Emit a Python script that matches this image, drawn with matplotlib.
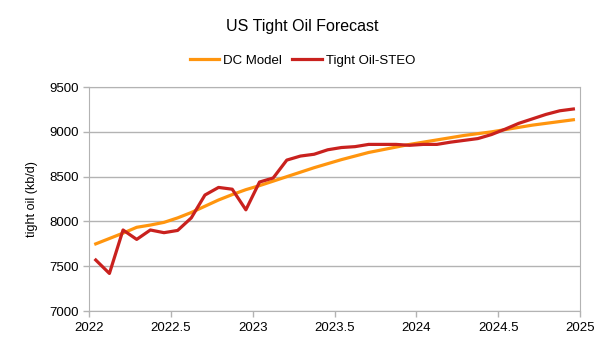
import matplotlib
matplotlib.use("Agg")
import matplotlib.pyplot as plt
import numpy as np

plt.rcParams['font.family'] = ['Liberation Sans', 'DejaVu Sans']

months = np.arange(36)
x = 2022 + (months + 0.5) / 12.0

dc_model = [7750, 7810, 7870, 7935, 7960, 7990, 8040, 8100, 8170, 8240, 8300, 8355,
            8400, 8450, 8500, 8550, 8600, 8645, 8690, 8730, 8770, 8800, 8830, 8860,
            8885, 8910, 8935, 8960, 8980, 9000, 9025, 9050, 9075, 9095, 9115, 9135]
steo = [7570, 7420, 7905, 7800, 7905, 7875, 7900, 8040, 8295, 8380, 8360, 8130,
        8440, 8485, 8685, 8730, 8750, 8800, 8825, 8835, 8860, 8860, 8860, 8850,
        8860, 8860, 8885, 8905, 8925, 8970, 9030, 9095, 9145, 9195, 9235, 9255]

xticks = [2022, 2022.5, 2023, 2023.5, 2024, 2024.5, 2025]
xticklabels = ['2022', '2022.5', '2023', '2023.5', '2024', '2024.5', '2025']
yticks = [7000, 7500, 8000, 8500, 9000, 9500]

fig = plt.figure(figsize=(6.05, 3.4), dpi=100)
ax = fig.add_axes([0.147, 0.085, 0.812, 0.659])

ax.plot(x, dc_model, color='#FF950E', lw=2.3, label='DC Model', zorder=3)
ax.plot(x, steo, color='#C9211E', lw=2.3, label='Tight Oil-STEO', zorder=4)

ax.set_xlim(2022, 2025)
ax.set_ylim(7000, 9500)
ax.set_xticks(xticks)
ax.set_xticklabels(xticklabels)
ax.set_yticks(yticks)
ax.grid(axis='y', color='#b3b3b3', lw=1)
ax.set_axisbelow(True)
for s in ax.spines.values():
    s.set_color('#b3b3b3')
ax.tick_params(colors='#b3b3b3', labelcolor='black', labelsize=9.5, length=4, width=1)
ax.set_ylabel('tight oil (kb/d)', fontsize=9, labelpad=8)

fig.suptitle('US Tight Oil Forecast', fontsize=11.5, y=0.943)
fig.legend(loc='center', bbox_to_anchor=(0.5, 0.822), ncol=2, frameon=False,
           fontsize=9.5, handlelength=2.25, columnspacing=0.75, handletextpad=0.3)

fig.savefig('out.png', dpi=100)
